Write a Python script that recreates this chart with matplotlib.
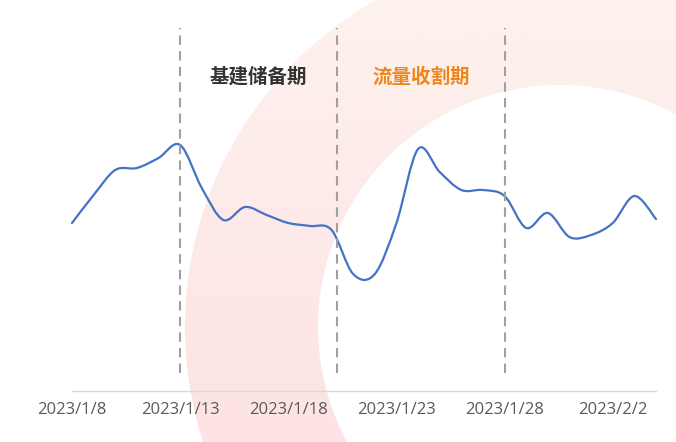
import datetime as dt
import numpy as np
import matplotlib.pyplot as plt
from matplotlib.path import Path
from matplotlib.patches import PathPatch, Wedge
from matplotlib.colors import LinearSegmentedColormap

# daily values, 2023/1/8 .. 2023/2/4
start = dt.date(2023, 1, 8)
dates = [start + dt.timedelta(days=i) for i in range(28)]
values = [168, 196, 221, 223, 233, 246, 203, 171, 184, 176, 168, 165, 161, 117,
          117, 168, 242, 219, 201, 201, 195, 163, 178, 154, 156, 168, 195, 172]
tick_idx = [0, 5, 10, 15, 20, 25]
tick_labels = [f"{d.year}/{d.month}/{d.day}" for d in (dates[i] for i in tick_idx)]

# phase boundaries (days after 1/8) and phase names
phase_lines = [5, 12.25, 20]
phase_names = ["基建储备期", "流量收割期"]
phase_colors = ["#333333", "#f08519"]


def smooth_path(x, y):
    # Catmull-Rom style bezier, like a spreadsheet "smoothed line"
    n = len(x)
    verts = [(x[0], y[0])]
    codes = [Path.MOVETO]
    for i in range(n - 1):
        a = max(i - 1, 0)
        b = min(i + 2, n - 1)
        c1 = (x[i] + (x[i + 1] - x[a]) / 6, y[i] + (y[i + 1] - y[a]) / 6)
        c2 = (x[i + 1] - (x[b] - x[i]) / 6, y[i + 1] - (y[b] - y[i]) / 6)
        verts += [c1, c2, (x[i + 1], y[i + 1])]
        codes += [Path.CURVE4] * 3
    return Path(verts, codes)


fig = plt.figure(figsize=(6.76, 4.42), dpi=100)

# background ring, drawn in pixel coordinates
bg = fig.add_axes([0, 0, 1, 1], zorder=0)
bg.set_xlim(0, 676)
bg.set_ylim(442, 0)
bg.axis("off")
ring = Wedge((560, 327), 375, 0, 360, width=133, transform=bg.transData,
             facecolor="none", edgecolor="none")
bg.add_patch(ring)
cmap = LinearSegmentedColormap.from_list("ring", ["#fdf2ee", "#fde3e3"])
grad = np.linspace(0, 1, 256).reshape(-1, 1)
im = bg.imshow(grad, extent=(0, 676, 442, 0), cmap=cmap, aspect="auto")
im.set_clip_path(ring)

ax = fig.add_axes([72 / 676, 51 / 442, 584 / 676, 363 / 442], zorder=1)
ax.patch.set_alpha(0)
x = np.arange(len(values))
ax.add_patch(PathPatch(smooth_path(x, values), facecolor="none",
                       edgecolor="#4472c4", lw=1.6, clip_on=False,
                       capstyle="round", joinstyle="round"))
ax.set_xlim(0, len(values) - 1)
ax.set_ylim(0, 363)

for p in phase_lines:
    ax.vlines(p, 18, 363, colors="#a0a0a0", linestyles=(0, (4.5, 3)), lw=1.5)

for i, name in enumerate(phase_names):
    mid = (phase_lines[i] + phase_lines[i + 1]) / 2
    ax.text(mid, 314, name, ha="center", va="center", fontsize=14,
            fontweight="bold", color=phase_colors[i],
            family=["Noto Sans CJK SC", "DejaVu Sans"])

for s in ["top", "left", "right"]:
    ax.spines[s].set_visible(False)
ax.spines["bottom"].set_color("#d9d9d9")
ax.spines["bottom"].set_linewidth(1)
ax.set_yticks([])
ax.set_xticks(tick_idx)
ax.set_xticklabels(tick_labels, fontsize=12, color="#595959", family="Open Sans")
ax.tick_params(axis="x", length=0, pad=8)

fig.savefig("out.png", dpi=100)
